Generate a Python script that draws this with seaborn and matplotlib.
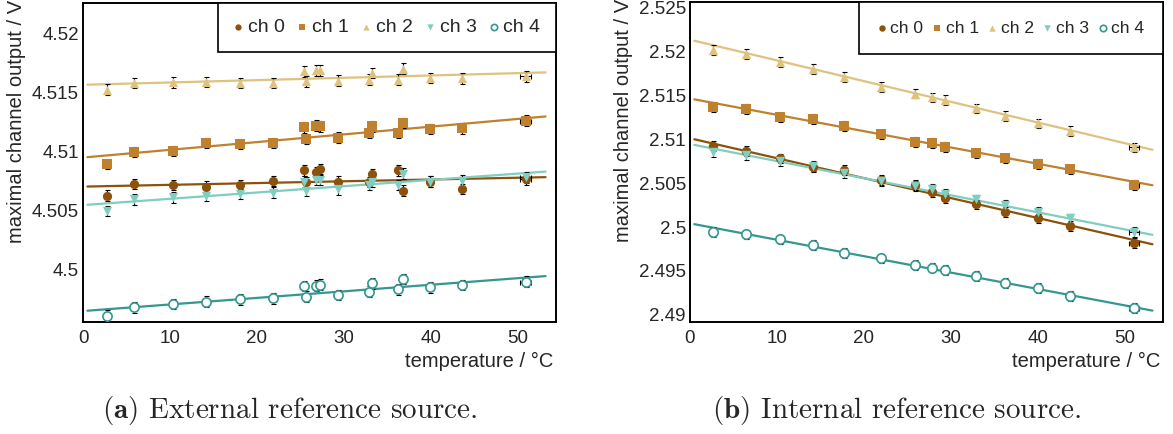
import numpy as np
import pandas as pd
import matplotlib
matplotlib.use("Agg")
import matplotlib.pyplot as plt
from matplotlib.ticker import MultipleLocator, FuncFormatter
import seaborn as sns

# ---- channels ----
channels = ["ch 0", "ch 1", "ch 2", "ch 3", "ch 4"]
colors = ["#8c510a", "#bf812d", "#dfc27d", "#80cdc1", "#35978f"]
markers = ["o", "s", "^", "v", "o"]
filled = [True, True, True, True, False]

# ---- (a) external reference source ----
temp_ext = [2.8, 5.9, 10.3, 14.1, 18.0, 21.9, 25.4, 25.7, 26.8, 27.2, 29.3,
            32.9, 33.2, 36.2, 36.8, 39.9, 43.6, 50.9]
ext_ch0 = [4.50624, 4.50723, 4.50715, 4.50700, 4.50715, 4.50749, 4.50837, 4.50738,
           4.50823, 4.50849, 4.50743, 4.50738, 4.50806, 4.50837, 4.50666, 4.50743,
           4.50681, 4.50763]
ext_ch1 = [4.50891, 4.50993, 4.51004, 4.51070, 4.51061, 4.51070, 4.51203, 4.51106,
           4.51217, 4.51211, 4.51117, 4.51155, 4.51211, 4.51155, 4.51240, 4.51189,
           4.51194, 4.51260]
ext_ch2 = [4.51523, 4.51580, 4.51587, 4.51590, 4.51580, 4.51580, 4.51679, 4.51594,
           4.51688, 4.51688, 4.51600, 4.51609, 4.51666, 4.51609, 4.51702, 4.51623,
           4.51620, 4.51637]
ext_ch3 = [4.50494, 4.50593, 4.50610, 4.50624, 4.50638, 4.50650, 4.50743, 4.50666,
           4.50757, 4.50757, 4.50678, 4.50715, 4.50743, 4.50715, 4.50809, 4.50743,
           4.50751, 4.50780]
ext_ch4 = [4.49603, 4.49674, 4.49702, 4.49722, 4.49742, 4.49750, 4.49855, 4.49764,
           4.49858, 4.49867, 4.49779, 4.49807, 4.49878, 4.49827, 4.49915, 4.49844,
           4.49864, 4.49892]
ext_intercept = [4.50700, 4.50947, 4.51565, 4.50543, 4.49643]
ext_slope = [0.0000151, 0.0000656, 0.0000198, 0.0000535, 0.0000558]

# ---- (b) internal reference source ----
temp_int = [2.7, 6.5, 10.3, 14.2, 17.7, 22.0, 25.9, 27.8, 29.3, 32.9, 36.2,
            40.0, 43.7, 51.1]
int_ch0 = [2.50920, 2.50867, 2.50781, 2.50685, 2.50648, 2.50538, 2.50477, 2.50401,
           2.50333, 2.50258, 2.50174, 2.50099, 2.50015, 2.49815]
int_ch1 = [2.51367, 2.51341, 2.51247, 2.51227, 2.51148, 2.51053, 2.50969, 2.50958,
           2.50912, 2.50837, 2.50781, 2.50716, 2.50656, 2.50477]
int_ch2 = [2.52011, 2.51966, 2.51878, 2.51795, 2.51708, 2.51594, 2.51519, 2.51474,
           2.51443, 2.51349, 2.51265, 2.51178, 2.51091, 2.50906]
int_ch3 = [2.50856, 2.50818, 2.50753, 2.50693, 2.50610, 2.50523, 2.50466, 2.50432,
           2.50375, 2.50315, 2.50250, 2.50174, 2.50099, 2.49940]
int_ch4 = [2.49947, 2.49917, 2.49860, 2.49795, 2.49708, 2.49644, 2.49568, 2.49538,
           2.49511, 2.49443, 2.49360, 2.49303, 2.49219, 2.49076]
int_intercept = [2.51010, 2.51462, 2.52131, 2.50944, 2.50042]
int_slope = [-0.0002267, -0.0001855, -0.0002354, -0.0001941, -0.0001866]

yerr_ext = 0.00045
yerr_int = 0.00055
xerr_hot = 0.6   # uncertainty of the hottest temperature step

captions = [r"$\mathbf{(a)}$ External reference source.",
            r"$\mathbf{(b)}$ Internal reference source."]


def long_table(panel, temps, series):
    rows = []
    for ch, vals in zip(channels, series):
        for t, v in zip(temps, vals):
            rows.append((panel, ch, t, v))
    return pd.DataFrame(rows, columns=["panel", "channel", "temperature", "output"])


df = pd.concat([
    long_table("ext", temp_ext, [ext_ch0, ext_ch1, ext_ch2, ext_ch3, ext_ch4]),
    long_table("int", temp_int, [int_ch0, int_ch1, int_ch2, int_ch3, int_ch4]),
], ignore_index=True)

sns.set_theme(style="white")
plt.rcParams["font.family"] = ["Liberation Sans", "DejaVu Sans"]
plt.rcParams["mathtext.fontset"] = "cm"

fig = plt.figure(figsize=(11.73, 4.34), dpi=100)
ax_a = fig.add_axes([0.0708, 0.2581, 0.4032, 0.7350])
ax_b = fig.add_axes([0.5882, 0.2581, 0.4032, 0.7373])


def draw_panel(ax, panel, intercepts, slopes, yerr, ylim, msize,
               legend_box, legend_fs, legend_pad):
    t_fit = np.array([0.5, 53.2])
    handles = []
    for i, ch in enumerate(channels):
        sub = df[(df.panel == panel) & (df.channel == ch)]
        sns.lineplot(x=t_fit, y=intercepts[i] + slopes[i] * t_fit, color=colors[i],
                     lw=1.6, ax=ax, zorder=2)
        ax.errorbar(sub.temperature, sub.output, yerr=yerr, fmt="none",
                    ecolor="black", elinewidth=0.8, capsize=1.8, capthick=0.8, zorder=3)
        hot = sub[sub.temperature == sub.temperature.max()]
        ax.errorbar(hot.temperature, hot.output, xerr=xerr_hot, fmt="none",
                    ecolor="black", elinewidth=0.8, capsize=1.8, capthick=0.8, zorder=3)
        if filled[i]:
            sns.scatterplot(data=sub, x="temperature", y="output", marker=markers[i],
                            color=colors[i], s=msize, linewidth=0, ax=ax, zorder=4,
                            label=ch, legend=False)
        else:
            sns.scatterplot(data=sub, x="temperature", y="output", marker=markers[i],
                            facecolor="white", edgecolor=colors[i], s=msize,
                            linewidth=1.2, ax=ax, zorder=4, label=ch, legend=False)
        handles.append(ax.collections[-1])

    ax.set_xlim(0, 54.4)
    ax.set_ylim(*ylim)
    ax.xaxis.set_major_locator(MultipleLocator(10))
    ax.xaxis.set_minor_locator(MultipleLocator(2))
    ax.yaxis.set_major_locator(MultipleLocator(0.005))
    ax.yaxis.set_minor_locator(MultipleLocator(0.001))
    ax.yaxis.set_major_formatter(FuncFormatter(lambda v, p: f"{round(v, 4):g}"))
    ax.tick_params(which="both", direction="in", top=False, right=False,
                   labelsize=13.5, color="black", width=1.2)
    ax.tick_params(axis="y", which="major", length=10, pad=3)
    ax.tick_params(axis="y", which="minor", length=5)
    ax.tick_params(axis="x", which="major", length=6, pad=6)
    ax.tick_params(axis="x", which="minor", length=3.5)
    for s in ax.spines.values():
        s.set_color("black")
        s.set_linewidth(1.4)

    ax.set_xlabel("temperature / °C", fontsize=14.5, loc="right")
    ax.set_ylabel("maximal channel output / V", fontsize=14.5, loc="top")
    ax.xaxis.set_label_coords(0.9937, -0.094)
    ax.yaxis.set_label_coords(-0.121, 1.01)

    leg = ax.legend(handles, channels, ncol=5, mode="expand", loc="upper left",
                    bbox_to_anchor=legend_box, borderaxespad=0, fontsize=legend_fs,
                    handlelength=0.5, handletextpad=0.25, columnspacing=0.6,
                    markerscale=0.68, scatterpoints=1, fancybox=False,
                    borderpad=legend_pad, framealpha=1)
    leg.get_frame().set_edgecolor("black")
    leg.get_frame().set_linewidth(1.2)


draw_panel(ax_a, "ext", ext_intercept, ext_slope, yerr_ext, (4.4955, 4.5226), 44,
           (0.2854, 0.0, 0.7146, 1.0), 14, 0.8)
draw_panel(ax_b, "int", int_intercept, int_slope, yerr_int, (2.4892, 2.5256), 46,
           (0.3573, 0.0, 0.6427, 1.0), 12.6, 1.05)

fig.text(0.247, 0.055, captions[0], ha="center", va="center",
         fontfamily="cmr10", fontsize=21)
fig.text(0.764, 0.055, captions[1], ha="center", va="center",
         fontfamily="cmr10", fontsize=21)

fig.savefig("out.png", dpi=100)
